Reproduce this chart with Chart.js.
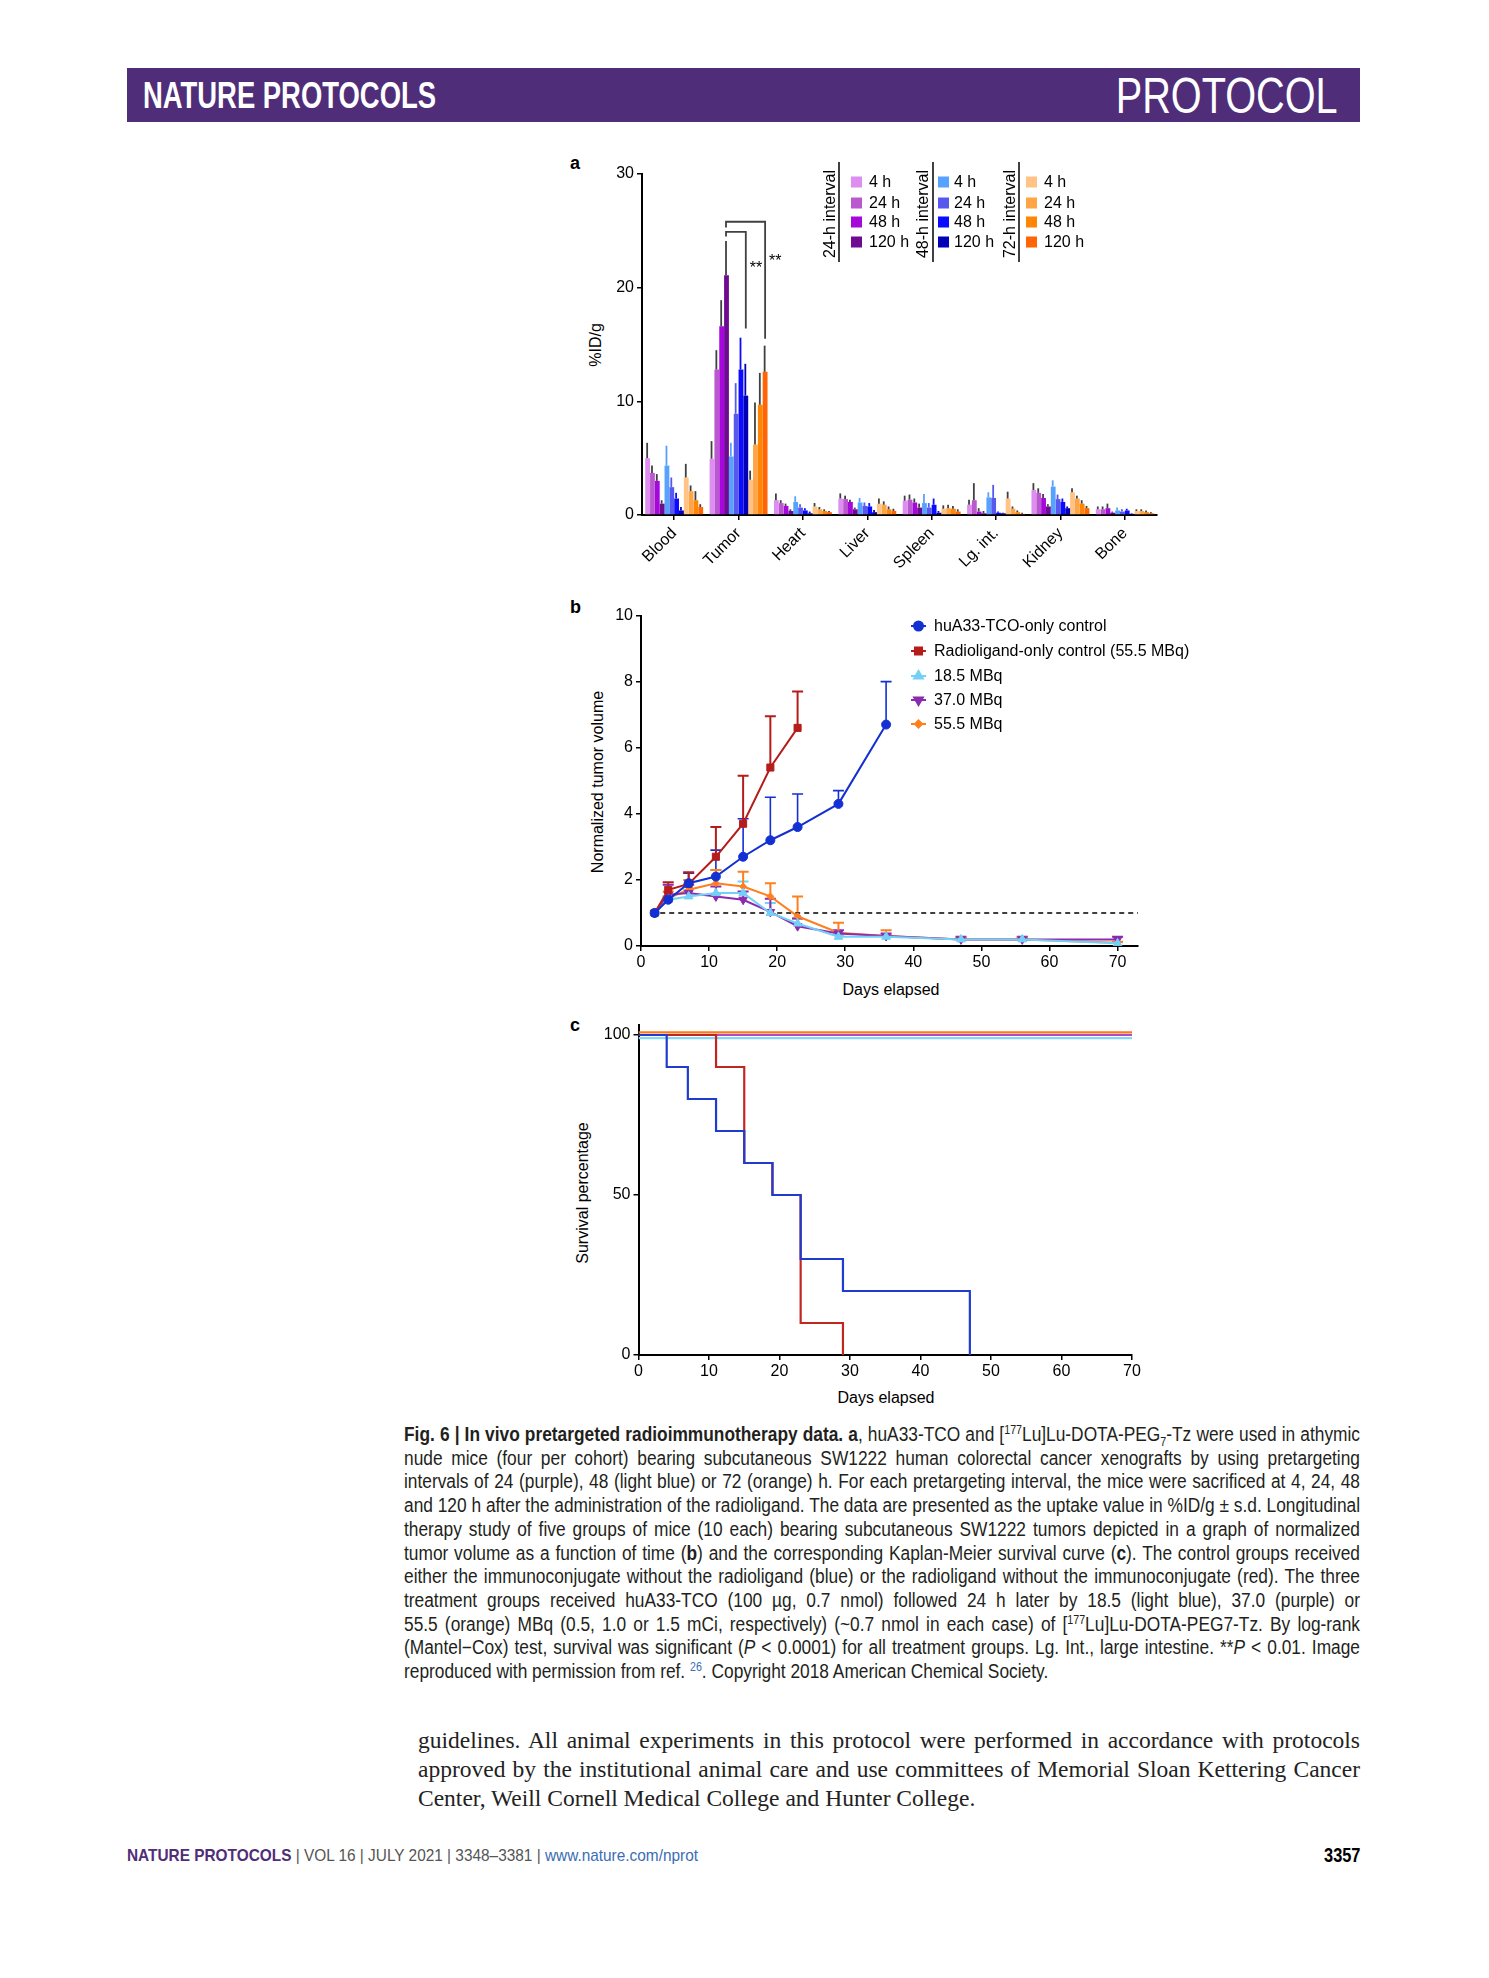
<!DOCTYPE html>
<html>
<head>
<meta charset="utf-8">
<script src="https://cdn.jsdelivr.net/npm/chart.js@4.4.1/dist/chart.umd.min.js"></script>
<style>
  body { margin: 0; width: 1489px; height: 1978px; background: #fff; position: relative; font-family: "Liberation Sans", Arial, sans-serif; color: #000; }
  .abs { position: absolute; white-space: nowrap; }
  .header { position: absolute; left: 127px; top: 68px; width: 1233px; height: 54px; background: #502d78; }
  .hleft { position: absolute; left: 16px; top: 8px; font-weight: bold; font-size: 36px; color: #fff; line-height: 40px; white-space: nowrap; transform-origin: 0 50%; }
  .hright { position: absolute; right: 22px; top: 0px; font-size: 50px; color: #fff; line-height: 56px; white-space: nowrap; transform-origin: 100% 50%; }
  .panel { font-weight: bold; font-size: 18px; }
  .rot { transform: translate(-50%, -50%) rotate(-90deg); font-size: 16px; }
  .ctr { transform: translate(-50%, -50%); font-size: 16px; }
  canvas { position: absolute; }
  .caption { position: absolute; left: 404px; top: 1423px; width: 956px; font-size: 19.5px; line-height: 23.7px; color: #231f20; }
  .caption div, .body div { white-space: nowrap; text-align: left; }
  .justified div { text-align: justify; text-align-last: justify; }
  .justified div.last { text-align-last: left; }
  .caption sup, .caption sub { font-size: 12px; line-height: 0; }
  .body { position: absolute; left: 418px; top: 1726px; width: 942px; font-family: "Liberation Serif", "DejaVu Serif", serif; font-size: 23.5px; line-height: 29px; color: #222; }
  .footer { position: absolute; left: 127px; top: 1845px; font-size: 17px; line-height: 22px; color: #555; white-space: nowrap; transform-origin: 0 50%; }
  .pagenum { position: absolute; right: 129px; top: 1844px; font-weight: bold; font-size: 20px; line-height: 22px; transform: scaleX(0.82); transform-origin: 100% 50%; }
</style>
</head>
<body>

<div class="header">
  <div class="hleft" id="hleft">NATURE PROTOCOLS</div>
  <div class="hright" id="hright">PROTOCOL</div>
</div>

<div class="abs panel" style="left:570px; top:153px;">a</div>
<div class="abs rot" style="left:596px; top:345px;">%ID/g</div>
<canvas id="chartA" width="620" height="430" style="left:560px; top:150px;"></canvas>

<div class="abs panel" style="left:570px; top:597px;">b</div>
<div class="abs rot" style="left:598px; top:782px;">Normalized tumor volume</div>
<div class="abs ctr" style="left:891px; top:990px;">Days elapsed</div>
<canvas id="chartB" width="700" height="390" style="left:560px; top:595px;"></canvas>

<div class="abs panel" style="left:570px; top:1015px;">c</div>
<div class="abs rot" style="left:583px; top:1193px;">Survival percentage</div>
<div class="abs ctr" style="left:886px; top:1398px;">Days elapsed</div>
<canvas id="chartC" width="620" height="390" style="left:560px; top:1010px;"></canvas>

<div class="caption" id="caption">
  <div><span><b>Fig. 6 | In vivo pretargeted radioimmunotherapy data. a</b>, huA33-TCO and [<sup>177</sup>Lu]Lu-DOTA-PEG<sub>7</sub>-Tz were used in athymic</span></div>
  <div><span>nude mice (four per cohort) bearing subcutaneous SW1222 human colorectal cancer xenografts by using pretargeting</span></div>
  <div><span>intervals of 24 (purple), 48 (light blue) or 72 (orange) h. For each pretargeting interval, the mice were sacrificed at 4, 24, 48</span></div>
  <div><span>and 120 h after the administration of the radioligand. The data are presented as the uptake value in %ID/g ± s.d. Longitudinal</span></div>
  <div><span>therapy study of five groups of mice (10 each) bearing subcutaneous SW1222 tumors depicted in a graph of normalized</span></div>
  <div><span>tumor volume as a function of time (<b>b</b>) and the corresponding Kaplan-Meier survival curve (<b>c</b>). The control groups received</span></div>
  <div><span>either the immunoconjugate without the radioligand (blue) or the radioligand without the immunoconjugate (red). The three</span></div>
  <div><span>treatment groups received huA33-TCO (100 µg, 0.7 nmol) followed 24 h later by 18.5 (light blue), 37.0 (purple) or</span></div>
  <div><span>55.5 (orange) MBq (0.5, 1.0 or 1.5 mCi, respectively) (~0.7 nmol in each case) of [<sup>177</sup>Lu]Lu-DOTA-PEG7-Tz. By log-rank</span></div>
  <div><span>(Mantel−Cox) test, survival was significant (<i>P</i> &lt; 0.0001) for all treatment groups. Lg. Int., large intestine. **<i>P</i> &lt; 0.01. Image</span></div>
  <div class="last"><span>reproduced with permission from ref. <sup style="color:#3a6db5">26</sup>. Copyright 2018 American Chemical Society.</span></div>
</div>

<div class="body" id="bodytext">
  <div><span>guidelines. All animal experiments in this protocol were performed in accordance with protocols</span></div>
  <div><span>approved by the institutional animal care and use committees of Memorial Sloan Kettering Cancer</span></div>
  <div class="last"><span>Center, Weill Cornell Medical College and Hunter College.</span></div>
</div>

<div class="footer" id="footer"><b style="color:#502d78">NATURE PROTOCOLS</b> | VOL 16 | JULY 2021 | 3348–3381 | <span style="color:#3a6db5">www.nature.com/nprot</span></div>
<div class="pagenum">3357</div>

<script>
// squeeze page texts to the widths they take in the printed page
function fitWidth(el, width) {
    const w = el.getBoundingClientRect().width;
    el.style.transform = 'scaleX(' + (width / w) + ')';
}
function fitLines(box, width, maxScale) {
    const spans = Array.from(box.querySelectorAll('div > span'));
    const widest = Math.max(...spans.map(s => s.getBoundingClientRect().width));
    const f = Math.min(maxScale, width / widest);
    box.style.width = (width / f) + 'px';
    box.style.transform = 'scaleX(' + f + ')';
    box.style.transformOrigin = '0 0';
    box.classList.add('justified');
}
fitWidth(document.getElementById('hleft'), 293);
fitWidth(document.getElementById('hright'), 222);
fitWidth(document.getElementById('footer'), 571);
fitLines(document.getElementById('caption'), 956, 1);
fitLines(document.getElementById('bodytext'), 942, 1);

Chart.defaults.font.family = '"Liberation Sans", Arial, sans-serif';
Chart.defaults.font.size = 16;
Chart.defaults.color = '#000';
Chart.defaults.animation = false;

// ---------- panel a: biodistribution ----------
const organs = ['Blood', 'Tumor', 'Heart', 'Liver', 'Spleen', 'Lg. int.', 'Kidney', 'Bone'];
const hourLabels = ['4 h', '24 h', '48 h', '120 h'];
const intervalNames = ['24-h interval', '48-h interval', '72-h interval'];

// 24-h interval (purple)
const p4 = [5.0, 4.95, 1.3, 1.45, 1.25, 0.9, 2.2, 0.5];
const p24 = [3.7, 12.8, 1.05, 1.4, 1.35, 1.3, 1.95, 0.5];
const p48 = [3.0, 16.6, 0.8, 1.15, 1.1, 0.3, 1.5, 0.6];
const p120 = [1.0, 21.1, 0.35, 0.5, 0.65, 0.15, 0.75, 0.2];
const p4Sd = [1.35, 1.55, 0.6, 0.45, 0.45, 0.45, 0.6, 0.25];
const p24Sd = [0.65, 1.7, 0.25, 0.3, 0.45, 1.5, 0.4, 0.25];
const p48Sd = [0.6, 2.3, 0.2, 0.2, 0.35, 0.3, 0.35, 0.4];
const p120Sd = [0.3, 3.0, 0.15, 0.15, 0.35, 0.2, 0.2, 0.1];
// 48-h interval (blue)
const b4 = [4.35, 5.15, 1.15, 1.1, 1.05, 1.55, 2.5, 0.4];
const b24 = [2.45, 8.9, 0.65, 0.8, 0.65, 1.5, 1.4, 0.3];
const b48 = [1.45, 12.8, 0.4, 0.75, 0.9, 0.2, 1.15, 0.4];
const b120 = [0.4, 10.5, 0.15, 0.25, 0.2, 0.15, 0.6, 0.1];
const b4Sd = [1.75, 1.2, 0.5, 0.4, 0.8, 0.45, 0.55, 0.25];
const b24Sd = [0.85, 2.7, 0.3, 0.3, 0.4, 1.15, 0.4, 0.2];
const b48Sd = [0.5, 2.8, 0.2, 0.3, 0.55, 0.1, 0.3, 0.15];
const b120Sd = [0.3, 2.8, 0.15, 0.2, 0.15, 0.05, 0.15, 0.05];
// 72-h interval (orange)
const o4 = [3.3, 3.1, 0.75, 1.0, 0.55, 1.45, 2.0, 0.35];
const o24 = [2.1, 6.2, 0.5, 0.9, 0.6, 0.55, 1.45, 0.35];
const o48 = [1.3, 9.7, 0.35, 0.5, 0.55, 0.25, 1.0, 0.25];
const o120 = [0.7, 12.6, 0.25, 0.35, 0.3, 0.1, 0.6, 0.15];
const o4Sd = [1.2, 0.8, 0.3, 0.45, 0.3, 0.6, 0.35, 0.15];
const o24Sd = [0.5, 3.7, 0.2, 0.3, 0.3, 0.2, 0.25, 0.15];
const o48Sd = [0.8, 2.8, 0.15, 0.25, 0.25, 0.15, 0.3, 0.15];
const o120Sd = [0.25, 2.3, 0.1, 0.2, 0.2, 0.1, 0.2, 0.1];

// significance brackets on the tumor group (%ID/g levels)
const bracketInner = { top: 24.9, leftEnd: 24.5, rightEnd: 16.4, stars: 21.7 };
const bracketOuter = { top: 25.8, leftEnd: 25.3, rightEnd: 15.5, stars: 22.3 };

const uptake = [p4, p24, p48, p120, b4, b24, b48, b120, o4, o24, o48, o120];
const uptakeSd = [p4Sd, p24Sd, p48Sd, p120Sd, b4Sd, b24Sd, b48Sd, b120Sd, o4Sd, o24Sd, o48Sd, o120Sd];
const barColors = ['#de8df0', '#bb58cf', '#a608dc', '#6f0b92',
                   '#58a2ff', '#5858ef', '#0b0bff', '#0000b8',
                   '#ffc386', '#ffa546', '#ff8506', '#ff6504'];
const errColors = ['#404040', '#404040', '#404040', '#404040',
                   '#58a2ff', '#5858ef', '#0b0bff', '#0000b8',
                   '#404040', '#404040', '#404040', '#404040'];

const barErrors = {
    id: 'barErrors',
    afterDatasetsDraw(chart) {
        const ctx = chart.ctx;
        const y = chart.scales.y;
        chart.data.datasets.forEach((ds, i) => {
            const meta = chart.getDatasetMeta(i);
            ctx.save();
            ctx.strokeStyle = errColors[i];
            ctx.lineWidth = 1.8;
            meta.data.forEach((bar, j) => {
                const x = bar.x - bar.width * 0.1;
                ctx.beginPath();
                ctx.moveTo(x, bar.y);
                ctx.lineTo(x, y.getPixelForValue(ds.data[j] + uptakeSd[i][j]));
                ctx.stroke();
            });
            ctx.restore();
        });

        // brackets: 120 h purple vs 120 h blue (inner) and 120 h orange (outer), tumor
        const xl = chart.getDatasetMeta(3).data[1].x - chart.getDatasetMeta(3).data[1].width * 0.1;
        const xi = chart.getDatasetMeta(7).data[1].x;
        const xo = chart.getDatasetMeta(11).data[1].x;
        ctx.save();
        ctx.strokeStyle = '#404040';
        ctx.lineWidth = 1.8;
        [[bracketInner, xi], [bracketOuter, xo]].forEach(([b, xr]) => {
            ctx.beginPath();
            ctx.moveTo(xl, y.getPixelForValue(b.leftEnd));
            ctx.lineTo(xl, y.getPixelForValue(b.top));
            ctx.lineTo(xr, y.getPixelForValue(b.top));
            ctx.lineTo(xr, y.getPixelForValue(b.rightEnd));
            ctx.stroke();
            ctx.fillStyle = '#000';
            ctx.font = '16px "Liberation Sans", Arial, sans-serif';
            ctx.textBaseline = 'middle';
            ctx.fillText('**', xr + 4, y.getPixelForValue(b.stars));
        });
        ctx.restore();
    }
};

const intervalLegend = {
    id: 'intervalLegend',
    afterDraw(chart) {
        const ctx = chart.ctx;
        const ruleX = [279, 373, 459];
        const squareX = [291, 378, 466];
        const labelX = [309, 394, 484];
        const titleX = [271, 364, 451];
        const rowY = [32, 53, 72, 92];
        ctx.save();
        ctx.font = '16px "Liberation Sans", Arial, sans-serif';
        intervalNames.forEach((name, g) => {
            ctx.strokeStyle = '#000';
            ctx.lineWidth = 1.5;
            ctx.beginPath();
            ctx.moveTo(ruleX[g], 12);
            ctx.lineTo(ruleX[g], 112);
            ctx.stroke();
            ctx.save();
            ctx.translate(titleX[g], 64);
            ctx.rotate(-Math.PI / 2);
            ctx.textAlign = 'center';
            ctx.textBaseline = 'middle';
            ctx.fillStyle = '#000';
            ctx.fillText(name, 0, 0);
            ctx.restore();
            hourLabels.forEach((h, k) => {
                ctx.fillStyle = barColors[g * 4 + k];
                ctx.fillRect(squareX[g], rowY[k] - 5.5, 11, 11);
                ctx.fillStyle = '#000';
                ctx.textBaseline = 'middle';
                ctx.textAlign = 'left';
                ctx.fillText(h, labelX[g], rowY[k] + 1);
            });
        });
        ctx.restore();
    }
};

new Chart(document.getElementById('chartA'), {
    type: 'bar',
    data: {
        labels: organs,
        datasets: uptake.map((vals, i) => ({
            label: intervalNames[Math.floor(i / 4)] + ' ' + hourLabels[i % 4],
            data: vals,
            backgroundColor: barColors[i],
            borderWidth: 0,
            barPercentage: 1.0,
            categoryPercentage: 0.9
        }))
    },
    options: {
        responsive: false,
        layout: { padding: { top: 24, right: 23, left: 0, bottom: 0 } },
        plugins: { legend: { display: false }, tooltip: { enabled: false } },
        scales: {
            x: {
                afterFit: (s) => { s.height = 65; },
                grid: { drawOnChartArea: false, drawTicks: true, tickLength: 5, color: '#000', lineWidth: 1.5, offset: false },
                border: { display: true, color: '#000', width: 2 },
                ticks: { minRotation: 45, maxRotation: 45, padding: 4, autoSkip: false }
            },
            y: {
                min: 0, max: 30,
                afterFit: (s) => { s.width = 82; },
                grid: { drawOnChartArea: false, drawTicks: true, tickLength: 5, color: '#000', lineWidth: 1.5 },
                border: { display: true, color: '#000', width: 2 },
                ticks: { stepSize: 10, padding: 3 }
            }
        }
    },
    plugins: [barErrors, intervalLegend]
});

// ---------- panel b: normalized tumor volume ----------
const groupNames = ['huA33-TCO-only control', 'Radioligand-only control (55.5 MBq)', '18.5 MBq', '37.0 MBq', '55.5 MBq'];
const ctrlDays = [2, 4, 7, 11, 15, 19, 23, 29, 36];
const ctrlVol = [1.0, 1.4, 1.9, 2.1, 2.7, 3.2, 3.6, 4.3, 6.7];
const ctrlSd = [0, 0.1, 0.3, 0.8, 1.15, 1.3, 1.0, 0.4, 1.3];
const radioDays = [2, 4, 7, 11, 15, 19, 23];
const radioVol = [1.0, 1.7, 1.88, 2.7, 3.7, 5.4, 6.6];
const radioSd = [0, 0.23, 0.35, 0.9, 1.45, 1.55, 1.1];
const treatDays = [2, 4, 7, 11, 15, 19, 23, 29, 36, 47, 56, 70];
const low185Vol = [1.0, 1.4, 1.5, 1.6, 1.6, 1.0, 0.68, 0.28, 0.28, 0.2, 0.2, 0.08];
const low185Sd = [0, 0.1, 0.2, 0.7, 0.35, 0.3, 0.15, 0.05, 0.05, 0.05, 0.05, 0.03];
const mid370Vol = [1.0, 1.55, 1.6, 1.5, 1.4, 1.03, 0.6, 0.38, 0.3, 0.2, 0.2, 0.2];
const mid370Sd = [0, 0.3, 0.25, 0.3, 0.25, 0.4, 0.23, 0.1, 0.08, 0.08, 0.08, 0.08];
const high555Vol = [1.0, 1.45, 1.7, 1.9, 1.8, 1.5, 0.9, 0.4, 0.3, 0.2, 0.2, 0.1];
const high555Sd = [0, 0.2, 0.3, 0.4, 0.45, 0.4, 0.6, 0.3, 0.18, 0.05, 0.05, 0.03];
const baselineDays = [1.5, 73];
const baselineVol = [1, 1];

const volColors = ['#1330d2', '#b51d1a', '#74d0f5', '#8a2bb0', '#ff7f1e'];
const volStyles = [
    { pointStyle: 'circle', radius: 4.5, rotation: 0 },
    { pointStyle: 'rect', radius: 5, rotation: 0 },
    { pointStyle: 'triangle', radius: 5, rotation: 0 },
    { pointStyle: 'triangle', radius: 5, rotation: 180 },
    { pointStyle: 'rectRot', radius: 3.5, rotation: 0 }
];

const toPoints = (xs, ys) => xs.map((x, i) => ({ x: x, y: ys[i] }));
const volSeries = [
    [ctrlDays, ctrlVol, ctrlSd],
    [radioDays, radioVol, radioSd],
    [treatDays, low185Vol, low185Sd],
    [treatDays, mid370Vol, mid370Sd],
    [treatDays, high555Vol, high555Sd]
];

const volErrors = {
    id: 'volErrors',
    beforeDatasetsDraw(chart) {
        const ctx = chart.ctx;
        const y = chart.scales.y;
        volSeries.forEach((s, i) => {
            const meta = chart.getDatasetMeta(i);
            ctx.save();
            ctx.strokeStyle = volColors[i];
            ctx.lineWidth = i === 0 ? 1.6 : 2;
            meta.data.forEach((pt, j) => {
                if (!s[2][j]) return;
                const top = y.getPixelForValue(s[1][j] + s[2][j]);
                ctx.beginPath();
                ctx.moveTo(pt.x, pt.y);
                ctx.lineTo(pt.x, top);
                ctx.moveTo(pt.x - 5.5, top);
                ctx.lineTo(pt.x + 5.5, top);
                ctx.stroke();
            });
            ctx.restore();
        });
    }
};

const volLegend = {
    id: 'volLegend',
    afterDraw(chart) {
        const ctx = chart.ctx;
        const rowY = [31, 56, 81, 105, 129];
        ctx.save();
        ctx.font = '16px "Liberation Sans", Arial, sans-serif';
        groupNames.forEach((name, i) => {
            ctx.strokeStyle = volColors[i];
            ctx.fillStyle = volColors[i];
            ctx.lineWidth = 2;
            ctx.beginPath();
            ctx.moveTo(351, rowY[i]);
            ctx.lineTo(366, rowY[i]);
            ctx.stroke();
            Chart.helpers.drawPoint(ctx, { pointStyle: volStyles[i].pointStyle, radius: volStyles[i].radius, rotation: volStyles[i].rotation, borderWidth: 1 }, 358.5, rowY[i]);
            ctx.fillStyle = '#000';
            ctx.textBaseline = 'middle';
            ctx.fillText(name, 374, rowY[i] + 1);
        });
        ctx.restore();
    }
};

const volDatasets = volSeries.map((s, i) => ({
    label: groupNames[i],
    data: toPoints(s[0], s[1]),
    borderColor: volColors[i],
    backgroundColor: volColors[i],
    pointBackgroundColor: volColors[i],
    pointBorderColor: volColors[i],
    borderWidth: 2,
    pointStyle: volStyles[i].pointStyle,
    pointRadius: volStyles[i].radius,
    pointRotation: volStyles[i].rotation,
    pointBorderWidth: 1,
    tension: 0
}));
volDatasets.push({
    label: 'baseline',
    data: toPoints(baselineDays, baselineVol),
    borderColor: '#000',
    borderWidth: 1.5,
    borderDash: [5, 4],
    pointRadius: 0
});

new Chart(document.getElementById('chartB'), {
    type: 'line',
    data: { datasets: volDatasets },
    options: {
        responsive: false,
        layout: { padding: { top: 20.5, right: 122, left: 0, bottom: 0 } },
        plugins: { legend: { display: false }, tooltip: { enabled: false } },
        scales: {
            x: {
                type: 'linear', min: 0, max: 73,
                afterFit: (s) => { s.height = 39; },
                grid: { drawOnChartArea: false, drawTicks: true, tickLength: 5, color: '#000', lineWidth: 1.5 },
                border: { display: true, color: '#000', width: 2 },
                ticks: { stepSize: 10, includeBounds: false, padding: 2 }
            },
            y: {
                min: 0, max: 10,
                afterFit: (s) => { s.width = 81; },
                grid: { drawOnChartArea: false, drawTicks: true, tickLength: 5, color: '#000', lineWidth: 1.5 },
                border: { display: true, color: '#000', width: 2 },
                ticks: { stepSize: 2, padding: 3 }
            }
        }
    },
    plugins: [volErrors, volLegend]
});

// ---------- panel c: Kaplan-Meier survival ----------
const kmCtrlDays = [0, 4, 7, 11, 15, 19, 23, 29, 47];
const kmCtrlSurv = [100, 90, 80, 70, 60, 50, 30, 20, 0];
const kmRadioDays = [0, 11, 15, 19, 23, 29];
const kmRadioSurv = [100, 90, 60, 50, 10, 0];
const kmTreatDays = [0, 70];
const kmHighSurv = [100.8, 100.8];
const kmMidSurv = [100, 100];
const kmLowSurv = [99, 99];

const kmSeries = [
    [kmCtrlDays, kmCtrlSurv, '#1f3ccf'],
    [kmRadioDays, kmRadioSurv, '#c0271f'],
    [kmTreatDays, kmHighSurv, '#ff7a1c'],
    [kmTreatDays, kmMidSurv, '#b04cc2'],
    [kmTreatDays, kmLowSurv, '#86d6f7']
];

new Chart(document.getElementById('chartC'), {
    type: 'line',
    data: {
        datasets: kmSeries.map((s, i) => ({
            label: groupNames[[0, 1, 4, 3, 2][i]],
            data: toPoints(s[0], s[1]),
            borderColor: s[2],
            borderWidth: 2.2,
            pointRadius: 0,
            stepped: true
        }))
    },
    options: {
        responsive: false,
        layout: { padding: { top: 15.4, right: 48, left: 0, bottom: 0 } },
        plugins: { legend: { display: false }, tooltip: { enabled: false } },
        scales: {
            x: {
                type: 'linear', min: 0, max: 70,
                afterFit: (s) => { s.height = 45; },
                grid: { drawOnChartArea: false, drawTicks: true, tickLength: 5, color: '#000', lineWidth: 1.5 },
                border: { display: true, color: '#000', width: 2 },
                ticks: { stepSize: 10, padding: 2 }
            },
            y: {
                min: 0, max: 103,
                afterFit: (s) => { s.width = 78.5; },
                grid: { drawOnChartArea: false, drawTicks: true, tickLength: 5, color: '#000', lineWidth: 1.5 },
                border: { display: true, color: '#000', width: 2 },
                ticks: { stepSize: 50, includeBounds: false, padding: 3 }
            }
        }
    }
});
</script>
</body>
</html>
